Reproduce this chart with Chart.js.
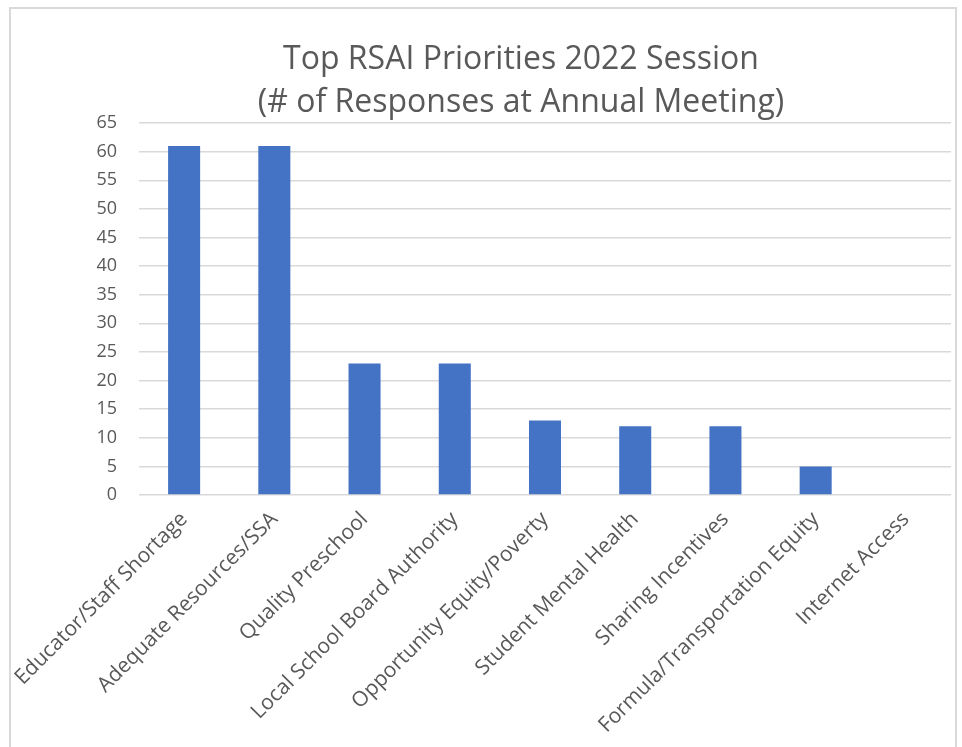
<!DOCTYPE html>
<html lang="en">
<head>
    <meta charset="UTF-8">
    <title>Top RSAI Priorities 2022 Session</title>
    <script src="https://cdn.jsdelivr.net/npm/chart.js"></script>
    <style>
        html, body { margin: 0; padding: 0; background: #fff; overflow: hidden; }
        #frame { position: absolute; left: 9px; top: 7px; width: 944px; height: 800px; border: 2px solid #d9d9d9; }
        #wrap { position: absolute; left: 0; top: 0; width: 962px; height: 747px; }
    </style>
</head>
<body>
    <div id="frame"></div>
    <div id="wrap"><canvas id="chart"></canvas></div>

    <script>
    // Chart data
    const titleLines = ["Top RSAI Priorities 2022 Session", "(# of Responses at Annual Meeting)"];
    const categories = [
        "Educator/Staff Shortage",
        "Adequate Resources/SSA",
        "Quality Preschool",
        "Local School Board Authority",
        "Opportunity Equity/Poverty",
        "Student Mental Health",
        "Sharing Incentives",
        "Formula/Transportation Equity",
        "Internet Access"
    ];
    const responses = [61, 61, 23, 23, 13, 12, 12, 5, 0];
    const yMin = 0, yMax = 65, yStep = 5;

    const textColor = "#595959";
    const gridColor = "#d9d9d9";
    const fontFamily = "'Open Sans', 'Noto Sans', sans-serif";

    const ctx = document.getElementById("chart").getContext("2d");
    new Chart(ctx, {
        type: "bar",
        data: {
            labels: categories,
            datasets: [{
                data: responses,
                backgroundColor: "#4472c4",
                categoryPercentage: 1,
                barPercentage: 0.355
            }]
        },
        options: {
            responsive: true,
            maintainAspectRatio: false,
            animation: false,
            // left padding shifts the title centre to the right like the original
            layout: { padding: { left: 91, right: 11, top: 0, bottom: 0 } },
            plugins: {
                legend: { display: false },
                tooltip: { enabled: false },
                title: {
                    display: true,
                    text: titleLines,
                    color: textColor,
                    font: { family: fontFamily, size: 32, weight: "normal", lineHeight: 1.33 },
                    padding: { top: 39, bottom: -1 }
                }
            },
            scales: {
                x: {
                    grid: { display: false },
                    border: { display: false },
                    ticks: {
                        color: textColor,
                        font: { family: fontFamily, size: 21 },
                        minRotation: 45,
                        maxRotation: 45,
                        autoSkip: false,
                        padding: 4
                    },
                    afterFit: function (scale) { scale.height = 252; }
                },
                y: {
                    min: yMin,
                    max: yMax,
                    grid: { color: gridColor, lineWidth: 1.5, drawTicks: false },
                    border: { display: false },
                    ticks: {
                        stepSize: yStep,
                        color: textColor,
                        font: { family: fontFamily, size: 18 },
                        padding: 22
                    },
                    afterFit: function (scale) { scale.width = 48; }
                }
            }
        }
    });
    </script>
</body>
</html>
